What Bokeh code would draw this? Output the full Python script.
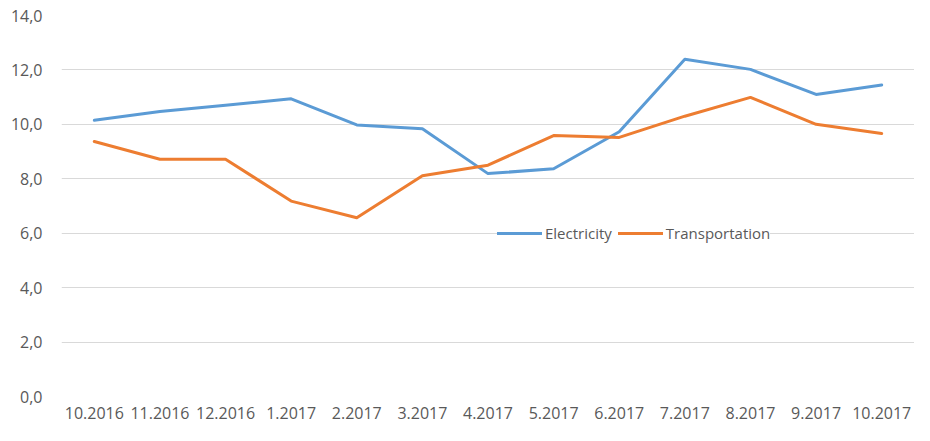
from bokeh.plotting import figure
from bokeh.models import FactorRange, Range1d, FixedTicker, Legend, LegendItem, ColumnDataSource
from bokeh.embed import file_html
from bokeh.resources import INLINE

months = ["10.2016", "11.2016", "12.2016", "1.2017", "2.2017", "3.2017", "4.2017",
          "5.2017", "6.2017", "7.2017", "8.2017", "9.2017", "10.2017"]
electricity = [10.15, 10.47, 10.70, 10.94, 9.98, 9.84, 8.19, 8.37, 9.73, 12.39, 12.02, 11.10, 11.45]
transportation = [9.37, 8.72, 8.72, 7.18, 6.57, 8.11, 8.50, 9.59, 9.52, 10.30, 10.99, 10.00, 9.66]
y_ticks = [0, 2, 4, 6, 8, 10, 12, 14]
y_tick_labels = ["0,0", "2,0", "4,0", "6,0", "8,0", "10,0", "12,0", "14,0"]

FONT = "Open Sans"
GREY = "#595959"

src = ColumnDataSource(dict(m=months, e=electricity, t=transportation))

p = figure(width=914, height=425, x_range=FactorRange(*months), y_range=Range1d(0, 14),
           output_backend="svg", toolbar_location=None,
           min_border_left=61, min_border_right=0, min_border_top=15, min_border_bottom=29)
p.outline_line_color = None
p.background_fill_color = "white"
p.border_fill_color = "white"

r_e = p.line("m", "e", source=src, line_color="#5B9BD5", line_width=3, line_join="round", line_cap="round")
r_t = p.line("m", "t", source=src, line_color="#ED7D31", line_width=3, line_join="round", line_cap="round")

p.xgrid.grid_line_color = None
p.ygrid.grid_line_color = "#D9D9D9"
p.ygrid.grid_line_width = 1
p.yaxis.ticker = FixedTicker(ticks=y_ticks)
p.yaxis.major_label_overrides = {t: l for t, l in zip(y_ticks, y_tick_labels)}

for ax in (p.xaxis[0], p.yaxis[0]):
    ax.axis_line_color = None
    ax.major_tick_line_color = None
    ax.minor_tick_line_color = None
    ax.major_label_text_font = FONT
    ax.major_label_text_font_size = "16px"
    ax.major_label_text_color = GREY
p.yaxis.major_label_standoff = 13
p.xaxis.major_label_standoff = 4

legend = Legend(items=[LegendItem(label="Electricity", renderers=[r_e]),
                       LegendItem(label="Transportation", renderers=[r_t])],
                orientation="horizontal", location=(436, 153),
                glyph_width=45, glyph_height=20, label_standoff=3, spacing=6,
                padding=2, margin=0, border_line_color=None,
                background_fill_color="white", background_fill_alpha=1,
                label_text_font=FONT, label_text_font_size="15px", label_text_color=GREY)
p.add_layout(legend, "center")

open("out.html", "w").write(file_html(p, INLINE))
